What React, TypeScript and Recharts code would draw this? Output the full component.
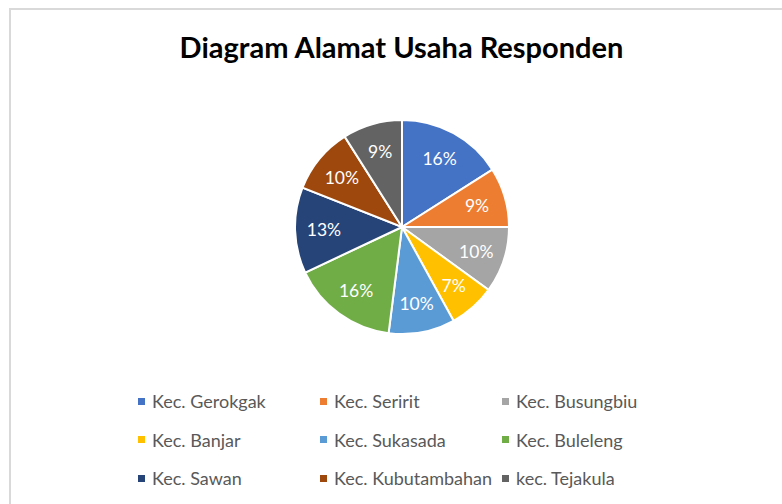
import { PieChart, Pie, Cell, Legend } from 'recharts';

const districts = [
  'Kec. Gerokgak',
  'Kec. Seririt',
  'Kec. Busungbiu',
  'Kec. Banjar',
  'Kec. Sukasada',
  'Kec. Buleleng',
  'Kec. Sawan',
  'Kec. Kubutambahan',
  'kec. Tejakula',
];

// percentages shown on the slices
const shares = [16, 9, 10, 7, 10, 16, 13, 10, 9];

const sliceColors = [
  '#4472C4',
  '#ED7D31',
  '#A5A5A5',
  '#FFC000',
  '#5B9BD5',
  '#70AD47',
  '#264478',
  '#9E480E',
  '#636363',
];

const data = districts.map((name, i) => ({ name, value: shares[i] }));

const RADIAN = Math.PI / 180;

function SliceLabel(props: any) {
  const { cx, cy, midAngle, outerRadius, value } = props;
  const r = outerRadius * 0.73;
  const x = cx + r * Math.cos(-midAngle * RADIAN);
  const y = cy + r * Math.sin(-midAngle * RADIAN);
  return (
    <text
      x={x}
      y={y}
      fill="#ffffff"
      textAnchor="middle"
      dominantBaseline="central"
      fontFamily="Lato, sans-serif"
      fontSize={17.5}
    >
      {`${value}%`}
    </text>
  );
}

function LegendGrid({ payload }: any) {
  // keep the series order, not alphabetical
  const items = [...(payload || [])].sort(
    (a: any, b: any) => districts.indexOf(a.value) - districts.indexOf(b.value)
  );
  return (
    <div style={{ position: 'relative', width: 782, height: 504 }}>
      {items.map((item: any, i: number) => {
        const col = i % 3;
        const row = Math.floor(i / 3);
        return (
          <div
            key={item.value}
            style={{
              position: 'absolute',
              left: 138 + col * 182,
              top: 390 + row * 38.5,
              height: 22,
              display: 'flex',
              alignItems: 'center',
              whiteSpace: 'nowrap',
              fontFamily: 'Lato, sans-serif',
              fontSize: 18,
              color: '#595959',
            }}
          >
            <span
              style={{
                display: 'inline-block',
                width: 7,
                height: 7,
                background: item.color,
                marginRight: 7,
              }}
            />
            {item.value}
          </div>
        );
      })}
    </div>
  );
}

export default function App() {
  return (
    <div
      style={{
        position: 'absolute',
        left: 0,
        top: 0,
        width: 782,
        height: 504,
        background: '#ffffff',
        overflow: 'hidden',
      }}
    >
      <div
        style={{
          position: 'absolute',
          left: 9,
          top: 8,
          width: 780,
          height: 500,
          borderLeft: '2px solid #d9d9d9',
          borderTop: '2px solid #d9d9d9',
        }}
      />
      <div
        style={{
          position: 'absolute',
          left: 0,
          top: 30,
          width: 803,
          textAlign: 'center',
          fontFamily: 'Lato, sans-serif',
          fontWeight: 700,
          fontSize: 29,
          lineHeight: '34px',
          color: '#000000',
        }}
      >
        Diagram Alamat Usaha Responden
      </div>
      <div style={{ position: 'absolute', left: 0, top: 0 }}>
        <PieChart width={782} height={504} margin={{ top: 0, right: 0, bottom: 0, left: 0 }}>
          <Pie
            data={data}
            dataKey="value"
            nameKey="name"
            cx={402}
            cy={227}
            outerRadius={107}
            startAngle={90}
            endAngle={-270}
            stroke="#ffffff"
            strokeWidth={2}
            label={SliceLabel}
            labelLine={false}
            isAnimationActive={false}
          >
            {data.map((d, i) => (
              <Cell key={d.name} fill={sliceColors[i]} />
            ))}
          </Pie>
          <Legend
            content={<LegendGrid />}
            wrapperStyle={{ position: 'absolute', left: 0, top: 0, width: 782, height: 504 }}
          />
        </PieChart>
      </div>
    </div>
  );
}
